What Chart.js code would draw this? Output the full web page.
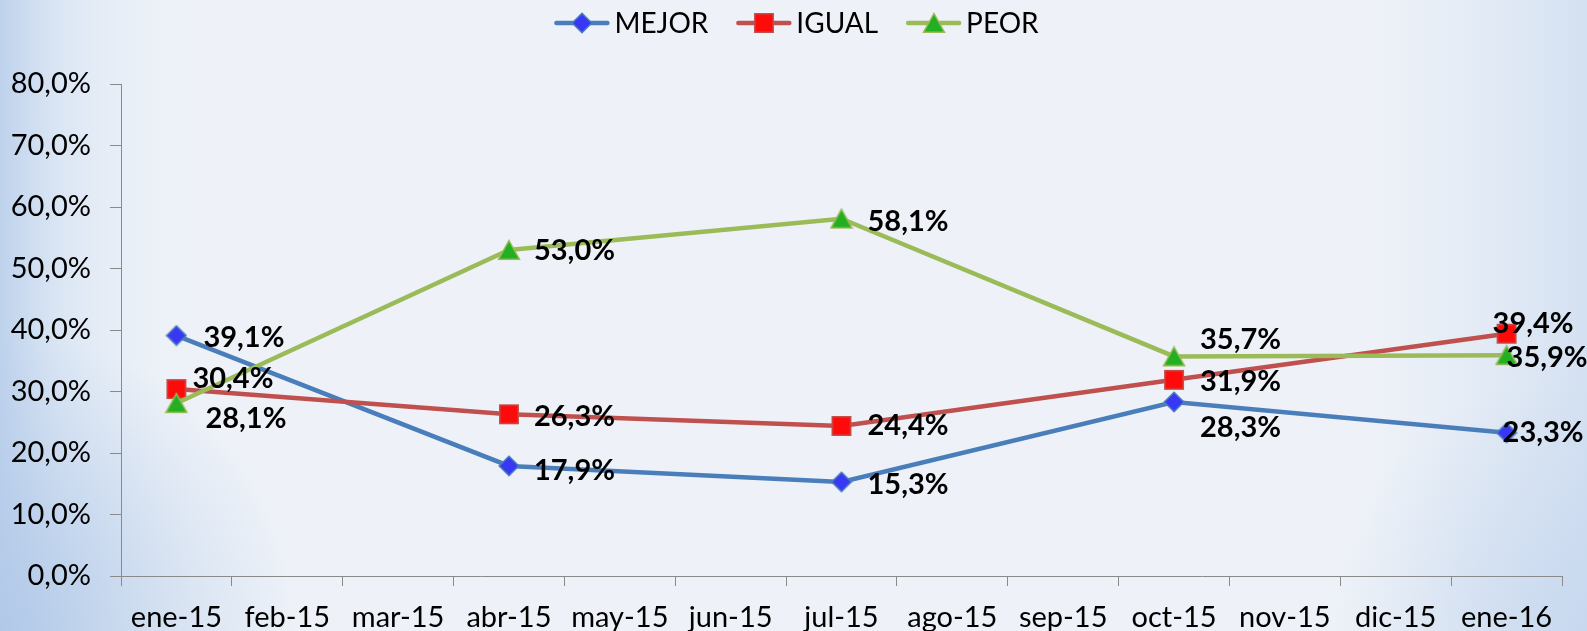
<!DOCTYPE html>
<html>
<head>
<meta charset="utf-8">
<title>MEJOR / IGUAL / PEOR</title>
<script src="https://cdn.jsdelivr.net/npm/chart.js@4.4.1/dist/chart.umd.min.js"></script>
<style>
  html, body { margin: 0; padding: 0; overflow: hidden; background: #eef2f8; }
  #wrap { width: 1587px; height: 631px; }
  canvas { display: block; }
</style>
</head>
<body>
<div id="wrap"><canvas id="c" width="1587" height="631"></canvas></div>
<script>
// ---- data ----
const months = ['ene-15', 'feb-15', 'mar-15', 'abr-15', 'may-15', 'jun-15', 'jul-15',
                'ago-15', 'sep-15', 'oct-15', 'nov-15', 'dic-15', 'ene-16'];
const seriesNames = ['MEJOR', 'IGUAL', 'PEOR'];
const mejor = [39.1, null, null, 17.9, null, null, 15.3, null, null, 28.3, null, null, 23.3];
const igual = [30.4, null, null, 26.3, null, null, 24.4, null, null, 31.9, null, null, 39.4];
const peor  = [28.1, null, null, 53.0, null, null, 58.1, null, null, 35.7, null, null, 35.9];
const yTicks = [0, 10, 20, 30, 40, 50, 60, 70, 80];

// ---- styling ----
const FONT = 'Lato, "Open Sans", sans-serif';
const lineColors   = ['#4a7ebb', '#c0504d', '#9bbb59'];
const markerFills  = ['#3838f4', '#ff0a0a', '#22b022'];
const markerShapes = ['diamond', 'square', 'triangle'];

// label nudges from the marker centre to the label's left / middle point
const defaultNudge = [26, 2];
const labelNudges = [
  { 0: [27, 2], 3: [25, 5], 6: [26, 3], 9: [26, 26], 12: [-4, 0] },
  { 0: [16, -10], 3: [25, 2], 6: [26, 0], 9: [26, 2], 12: [-14, -10] },
  { 0: [29, 15], 3: [25, 1], 6: [26, 3], 9: [26, -17], 12: [0, 2] }
];

const pct = v => v.toFixed(1).replace('.', ',') + '%';

// marker bitmaps, centred on their bounding box
function makeMarker(shape, fill, stroke) {
  const c = document.createElement('canvas');
  const w = shape === 'triangle' ? 24 : 22, h = 22;
  c.width = w; c.height = h;
  const g = c.getContext('2d');
  g.beginPath();
  if (shape === 'diamond') {
    g.moveTo(11, 1.2); g.lineTo(20.8, 11); g.lineTo(11, 20.8); g.lineTo(1.2, 11);
  } else if (shape === 'square') {
    g.rect(1.8, 1.8, 18.4, 18.4);
  } else {
    g.moveTo(12, 1.5); g.lineTo(22.5, 20.2); g.lineTo(1.5, 20.2);
  }
  g.closePath();
  g.fillStyle = fill; g.fill();
  g.lineWidth = 1.5; g.strokeStyle = stroke; g.lineJoin = 'miter'; g.stroke();
  return c;
}
const markers = markerShapes.map((s, i) => makeMarker(s, markerFills[i], lineColors[i]));

// ---- plugins ----
const backdrop = {
  id: 'backdrop',
  beforeDraw(chart) {
    const ctx = chart.ctx, w = chart.width, h = chart.height;
    ctx.save();
    ctx.fillStyle = '#eef2f8';
    ctx.fillRect(0, 0, w, h);
    let g = ctx.createLinearGradient(0, 0, 200, 0);
    g.addColorStop(0, 'rgba(190,210,236,1)');
    g.addColorStop(0.3, 'rgba(214,227,243,0.8)');
    g.addColorStop(1, 'rgba(238,242,248,0)');
    ctx.fillStyle = g; ctx.fillRect(0, 0, 200, h);
    g = ctx.createLinearGradient(w - 220, 0, w, 0);
    g.addColorStop(0, 'rgba(222,231,244,0)');
    g.addColorStop(1, 'rgba(212,225,242,1)');
    ctx.fillStyle = g; ctx.fillRect(w - 220, 0, 220, h);
    let r = ctx.createRadialGradient(0, h, 0, 0, h, 300);
    r.addColorStop(0, 'rgba(176,200,232,0.9)');
    r.addColorStop(1, 'rgba(176,200,232,0)');
    ctx.fillStyle = r; ctx.fillRect(0, 0, w, h);
    r = ctx.createRadialGradient(w, h, 0, w, h, 260);
    r.addColorStop(0, 'rgba(196,214,238,0.8)');
    r.addColorStop(1, 'rgba(196,214,238,0)');
    ctx.fillStyle = r; ctx.fillRect(0, 0, w, h);
    ctx.restore();
  }
};

const pointLabels = {
  id: 'pointLabels',
  afterDatasetsDraw(chart) {
    const ctx = chart.ctx;
    ctx.save();
    ctx.font = 'bold 29px ' + FONT;
    ctx.fillStyle = '#000';
    ctx.textAlign = 'left';
    ctx.textBaseline = 'middle';
    chart.data.datasets.forEach((ds, di) => {
      const meta = chart.getDatasetMeta(di);
      meta.data.forEach((pt, i) => {
        const v = ds.data[i];
        if (v === null || v === undefined) return;
        const [dx, dy] = labelNudges[di][i] || defaultNudge;
        ctx.fillText(pct(v), pt.x + dx, pt.y + dy);
      });
    });
    ctx.restore();
  }
};

const lineLegend = {
  id: 'lineLegend',
  afterDraw(chart) {
    const ctx = chart.ctx;
    const y = 23, seg = 55, gap = 5, itemGap = 28;
    ctx.save();
    ctx.font = '28px ' + FONT;
    ctx.textBaseline = 'middle';
    const items = chart.data.datasets.map((ds, i) => ({
      ds, i, tw: ctx.measureText(ds.label).width
    }));
    const total = items.reduce((s, it) => s + seg + gap + it.tw, 0) + itemGap * (items.length - 1);
    let x = chart.width / 2 + 3 - total / 2;
    items.forEach(it => {
      ctx.strokeStyle = it.ds.borderColor;
      ctx.lineWidth = 4.5;
      ctx.lineCap = 'round';
      ctx.beginPath(); ctx.moveTo(x + 2, y); ctx.lineTo(x + seg - 2, y); ctx.stroke();
      const m = markers[it.i];
      ctx.drawImage(m, Math.round(x + seg / 2 - m.width / 2), Math.round(y - m.height / 2));
      ctx.fillStyle = '#000';
      ctx.fillText(it.ds.label, x + seg + gap, y + 1);
      x += seg + gap + it.tw + itemGap;
    });
    ctx.restore();
  }
};

// ---- chart ----
const seriesValues = [mejor, igual, peor];
const datasets = seriesNames.map((name, i) => ({
  label: name,
  data: seriesValues[i],
  borderColor: lineColors[i],
  backgroundColor: markerFills[i],
  borderWidth: 4.5,
  pointStyle: markers[i],
  pointRadius: 10,
  spanGaps: true,
  tension: 0,
  order: 3 - i
}));

function build() {
  new Chart(document.getElementById('c'), {
    type: 'line',
    data: { labels: months, datasets },
    options: {
      responsive: false,
      animation: false,
      events: [],
      layout: { padding: { top: 84, right: 25, left: 0, bottom: 0 } },
      plugins: { legend: { display: false }, tooltip: { enabled: false } },
      scales: {
        x: {
          offset: true,
          grid: { offset: true, drawOnChartArea: false, drawTicks: true, tickLength: 10, color: '#8a8a8a', lineWidth: 1 },
          border: { display: true, color: '#8a8a8a', width: 1 },
          ticks: { font: { family: FONT, size: 29 }, color: '#000', padding: 14, maxRotation: 0, autoSkip: false },
          afterFit(s) { s.height = 55; }
        },
        y: {
          min: yTicks[0],
          max: yTicks[yTicks.length - 1],
          afterBuildTicks(s) { s.ticks = yTicks.map(v => ({ value: v })); },
          grid: { drawOnChartArea: false, drawTicks: true, tickLength: 11, color: '#8a8a8a', lineWidth: 1 },
          border: { display: true, color: '#8a8a8a', width: 1 },
          ticks: { font: { family: FONT, size: 29 }, color: '#000', padding: 19, callback: v => pct(v) },
          afterFit(s) { s.width = 121; }
        }
      }
    },
    plugins: [backdrop, pointLabels, lineLegend]
  });
}

if (document.fonts && document.fonts.load) {
  Promise.all([document.fonts.load('29px Lato'), document.fonts.load('bold 29px Lato')])
    .then(build, build);
} else {
  build();
}
</script>
</body>
</html>
